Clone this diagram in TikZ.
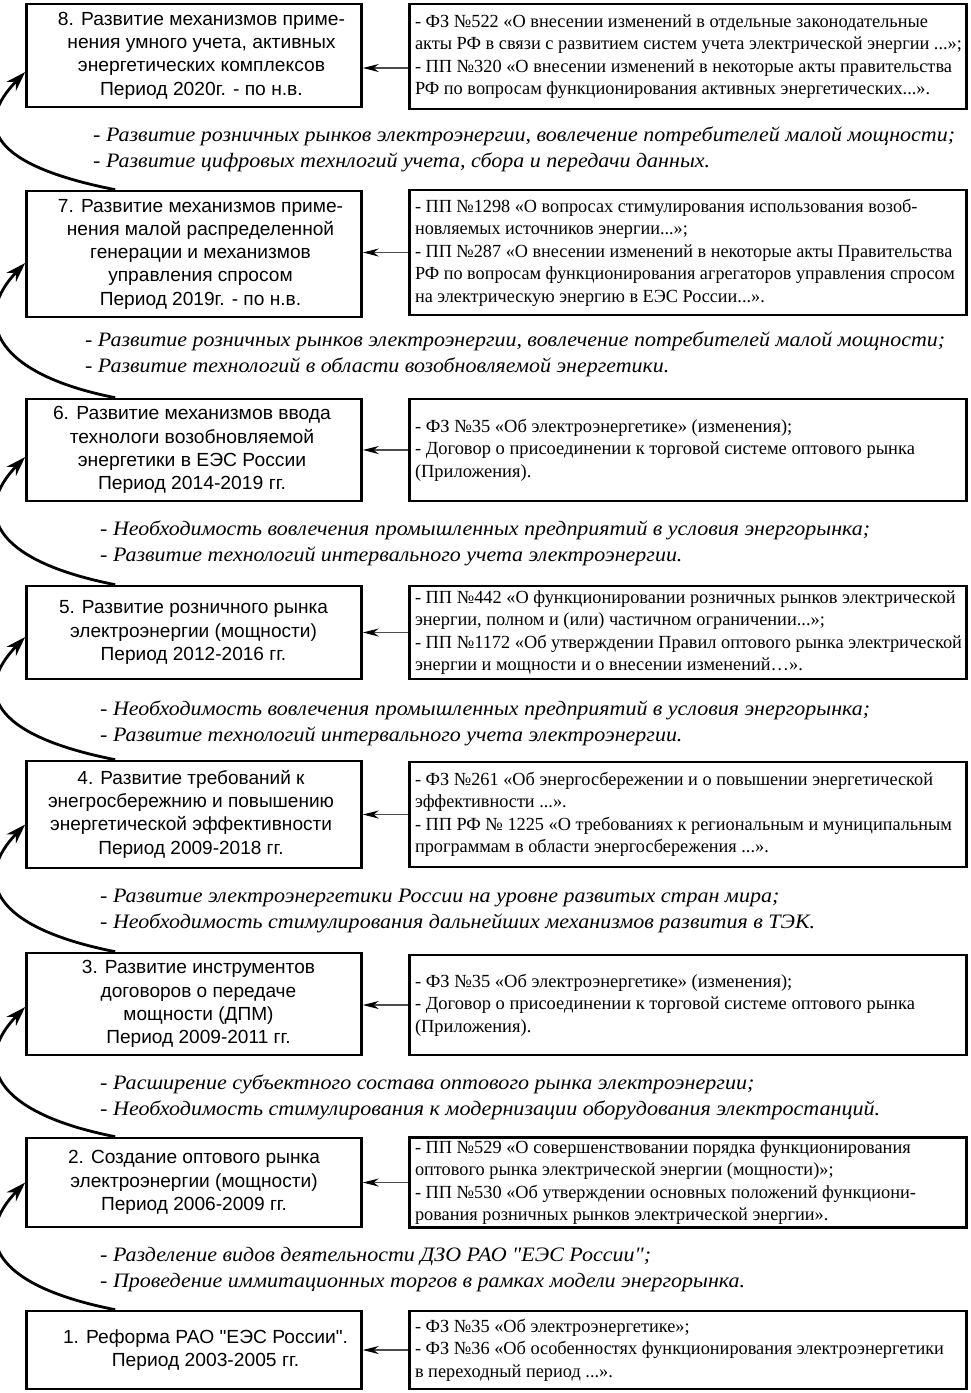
\documentclass[tikz,border=0pt]{standalone}
\usepackage{fontspec}
\setmainfont{Liberation Serif}
\newfontfamily\sansf{Liberation Sans}
\newfontfamily\seriff{Liberation Serif}
\usepackage{graphicx}
\usetikzlibrary{arrows.meta,calc}
\newsavebox\fitbox
\newcommand\fitto[2]{\sbox{\fitbox}{#2}\pgfmathsetmacro\fitsf{#1/\the\wd\fitbox}\scalebox{\fitsf}[1]{\usebox{\fitbox}}}
\newcommand\ltxt[3]{\hspace*{#1pt}\fitto{#2}{\begin{tabular}{@{}c@{}}#3\end{tabular}}}
\newcommand\rtxt[2]{\makebox[557pt][l]{\hspace*{5.5pt}\fitto{#1}{\begin{tabular}{@{}l@{}}#2\end{tabular}}}}
\newcommand\ntxt[2]{\fitto{#1}{\begin{tabular}{@{}l@{}}#2\end{tabular}}}
\begin{document}
\begin{tikzpicture}[x=1pt,y=-1pt,
  lbox/.style={draw, line width=2.6pt, minimum width=335pt, inner sep=0pt, font=\sansf\fontsize{19}{23.3}\selectfont},
  rbox/.style={draw, line width=2.6pt, minimum width=557pt, inner sep=0pt, font=\seriff\fontsize{18.5}{22.5}\selectfont},
  note/.style={anchor=west, inner sep=0pt, font=\seriff\itshape\fontsize{20.5}{26}\selectfont},
  harrow/.style={line width=1.1pt, draw=gray!60!black, -{Stealth[length=16pt,width=8pt,color=black]}},
  carrow/.style={line width=2.8pt, -{Stealth[length=20pt,width=13pt]}}]
\useasboundingbox[fill=white] (0,0) rectangle (970,1393);

% left boxes
\node[lbox, minimum height=103pt] (l8) at (194,55.5) {\ltxt{15}{287}{8. Развитие механизмов приме-\\нения умного учета, активных\\энергетических комплексов\\Период 2020г. - по н.в.}};
\node[lbox, minimum height=126pt] (l7) at (194,254) {\ltxt{13}{285}{7. Развитие механизмов приме-\\нения малой распределенной\\генерации и механизмов\\управления спросом\\Период 2019г. - по н.в.}};
\node[lbox, minimum height=102pt] (l6) at (194,450) {\ltxt{-4}{278}{6. Развитие механизмов ввода\\технологи возобновляемой\\энергетики в ЕЭС России\\Период 2014-2019 гг.}};
\node[lbox, minimum height=93pt] (l5) at (194,632.5) {\ltxt{-1}{269}{5. Развитие розничного рынка\\электроэнергии (мощности)\\Период 2012-2016 гг.}};
\node[lbox, minimum height=107pt] (l4) at (194,814.5) {\ltxt{-6}{286}{4. Развитие требований к\\энегросбережнию и повышению\\энергетической эффективности\\Период 2009-2018 гг.}};
\node[lbox, minimum height=102pt] (l3) at (194,1004) {\ltxt{9}{233}{3. Развитие инструментов\\договоров о передаче\\мощности (ДПМ)\\Период 2009-2011 гг.}};
\node[lbox, minimum height=89pt] (l2) at (194,1182.5) {\ltxt{0}{252}{2. Создание оптового рынка\\электроэнергии (мощности)\\Период 2006-2009 гг.}};
\node[lbox, minimum height=78pt] (l1) at (194,1350) {\ltxt{23}{285}{1. Реформа РАО "ЕЭС России".\\Период 2003-2005 гг.}};

% right boxes
\node[rbox, minimum height=105pt] (r8) at (688,56.5) {\rtxt{547}{- ФЗ №522 «О внесении изменений в отдельные законодательные\\акты РФ в связи с развитием систем учета электрической энергии ...»;\\- ПП №320 «О внесении изменений в некоторые акты правительства\\РФ по вопросам функционирования активных энергетических...».}};
\node[rbox, minimum height=125pt] (r7) at (688,252.5) {\rtxt{540}{- ПП №1298 «О вопросах стимулирования использования возоб-\\новляемых источников энергии...»;\\- ПП №287 «О внесении изменений в некоторые акты Правительства\\РФ по вопросам функционирования агрегаторов управления спросом\\на электрическую энергию в ЕЭС России...».}};
\node[rbox, minimum height=102pt] (r6) at (688,450) {\rtxt{500}{- ФЗ №35 «Об электроэнергетике» (изменения);\\- Договор о присоединении к торговой системе оптового рынка\\(Приложения).}};
\node[rbox, minimum height=93pt] (r5) at (688,632.5) {\rtxt{547}{- ПП №442 «О функционировании розничных рынков электрической\\энергии, полном и (или) частичном ограничении...»;\\- ПП №1172 «Об утверждении Правил оптового рынка электрической\\энергии и мощности и о внесении изменений…».}};
\node[rbox, minimum height=105pt] (r4) at (688,814.5) {\rtxt{537}{- ФЗ №261 «Об энергосбережении и о повышении энергетической\\эффективности ...».\\- ПП РФ № 1225 «О требованиях к региональным и муниципальным\\программам в области энергосбережения ...».}};
\node[rbox, minimum height=100pt] (r3) at (688,1005) {\rtxt{500}{- ФЗ №35 «Об электроэнергетике» (изменения);\\- Договор о присоединении к торговой системе оптового рынка\\(Приложения).}};
\node[rbox, minimum height=89pt] (r2) at (688,1182.5) {\rtxt{501}{- ПП №529 «О совершенствовании порядка функционирования\\оптового рынка электрической энергии (мощности)»;\\- ПП №530 «Об утверждении основных положений функциони-\\рования розничных рынков электрической энергии».}};
\node[rbox, minimum height=78pt] (r1) at (688,1350) {\rtxt{529}{- ФЗ №35 «Об электроэнергетике»;\\- ФЗ №36 «Об особенностях функционирования электроэнергетики\\в переходный период ...».}};

% notes
\node[note] (i8) at (93,149) {\ntxt{862}{- Развитие розничных рынков электроэнергии, вовлечение потребителей малой мощности;\\- Развитие цифровых технлогий учета, сбора и передачи данных.}};
\node[note] (i7) at (85,354) {\ntxt{860}{- Развитие розничных рынков электроэнергии, вовлечение потребителей малой мощности;\\- Развитие технологий в области возобновляемой энергетики.}};
\node[note] (i6) at (100,543) {\ntxt{770}{- Необходимость вовлечения промышленных предприятий в условия энергорынка;\\- Развитие технологий интервального учета электроэнергии.}};
\node[note] (i5) at (100,723.5) {\ntxt{770}{- Необходимость вовлечения промышленных предприятий в условия энергорынка;\\- Развитие технологий интервального учета электроэнергии.}};
\node[note] (i4) at (100,910.5) {\ntxt{715}{- Развитие электроэнергетики России на уровне развитых стран мира;\\- Необходимость стимулирования дальнейших механизмов развития в ТЭК.}};
\node[note] (i3) at (100,1097.5) {\ntxt{780}{- Расширение субъектного состава оптового рынка электроэнергии;\\- Необходимость стимулирования к модернизации оборудования электростанций.}};
\node[note] (i2) at (100,1269.5) {\ntxt{645}{- Разделение видов деятельности ДЗО РАО "ЕЭС России";\\- Проведение иммитационных торгов в рамках модели энергорынка.}};

% horizontal arrows
\coordinate (a8) at ([yshift=-11.5pt]r8.west);
\draw[harrow] (a8) -- (a8 -| l8.east);
\foreach \n in {7,6,5,4,3,2,1}{\draw[harrow] (r\n.west) -- (r\n.west -| l\n.east);}

% curved arrows
\draw[carrow] ([xshift=90pt]l7.north west) .. controls +(-126,-25) and +(-51.5,53) .. ([yshift=-16.5pt]l8.west);
\draw[carrow] ([xshift=90pt]l6.north west) .. controls +(-126,-25) and +(-51.5,53) .. ([yshift=-9pt]l7.west);
\draw[carrow] ([xshift=90pt]l5.north west) .. controls +(-126,-25) and +(-51.5,53) .. ([yshift=-7pt]l6.west);
\draw[carrow] ([xshift=90pt]l4.north west) .. controls +(-126,-25) and +(-51.5,53) .. ([yshift=-4.5pt]l5.west);
\draw[carrow] ([xshift=90pt]l3.north west) .. controls +(-126,-25) and +(-51.5,53) .. ([yshift=-10pt]l4.west);
\draw[carrow] ([xshift=90pt]l2.north west) .. controls +(-126,-25) and +(-51.5,53) .. ([yshift=-3pt]l3.west);
\draw[carrow] ([xshift=90pt]l1.north west) .. controls +(-126,-25) and +(-51.5,53) .. (l2.west);
\end{tikzpicture}
\end{document}
